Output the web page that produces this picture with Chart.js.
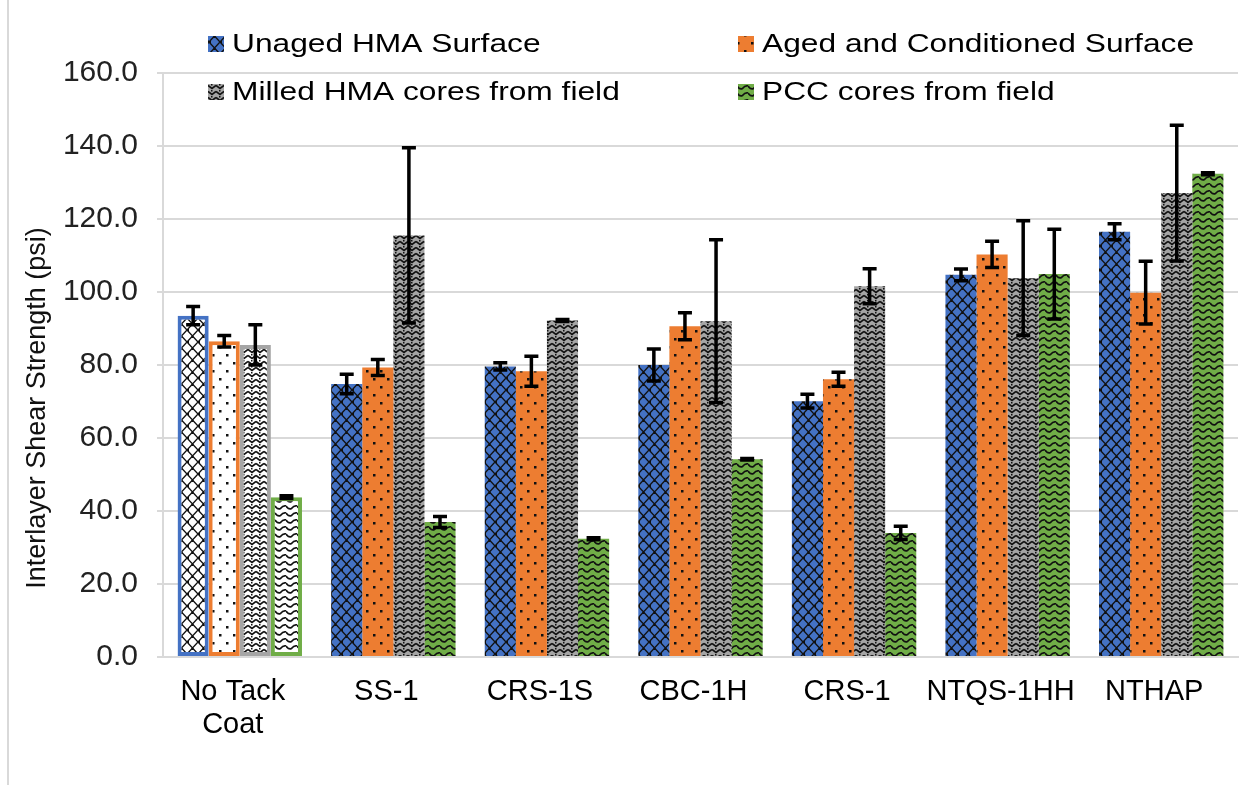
<!DOCTYPE html>
<html>
<head>
<meta charset="utf-8">
<script src="https://cdn.jsdelivr.net/npm/chart.js@4.4.0/dist/chart.umd.min.js"></script>
<style>
  html, body { margin: 0; padding: 0; background: #fff; }
  #wrap { position: relative; width: 1251px; height: 785px; }
  #frame { position: absolute; left: 7px; top: 0; width: 2px; height: 785px; background: #d9d9d9; }
</style>
</head>
<body>
<div id="wrap">
  <div id="frame"></div>
  <canvas id="shearChart" width="1251" height="785"></canvas>
</div>
<script>
const categories = [['No Tack', 'Coat'], 'SS-1', 'CRS-1S', 'CBC-1H', 'CRS-1', 'NTQS-1HH', 'NTHAP'];

const unaged    = [93.5, 74.8, 79.6, 80.0, 70.1, 104.7, 116.5];
const unagedErr = [2.5, 2.7, 1.0, 4.4, 1.9, 1.6, 2.2];
const aged      = [86.5, 79.3, 78.3, 90.6, 76.1, 110.3, 99.8];
const agedErr   = [1.6, 2.2, 4.1, 3.7, 1.9, 3.6, 8.6];
const milled    = [85.5, 115.5, 92.2, 92.0, 101.6, 103.8, 127.1];
const milledErr = [5.5, 24.0, 0.3, 22.3, 4.8, 15.7, 18.6];
const pcc       = [43.8, 37.0, 32.4, 54.2, 34.0, 104.9, 132.4];
const pccErr    = [0.4, 1.5, 0.3, 0.2, 1.8, 12.3, 0.3];

const yTicks = [0, 20, 40, 60, 80, 100, 120, 140, 160];
const yTitle = 'Interlayer Shear Strength (psi)';

const canvas = document.getElementById('shearChart');
const ctx = canvas.getContext('2d');

// little repeating tiles, like the Excel pattern fills
function makePattern(bg, w, h, draw) {
  const c = document.createElement('canvas');
  c.width = w; c.height = h;
  const g = c.getContext('2d');
  g.fillStyle = bg;
  g.fillRect(0, 0, w, h);
  g.strokeStyle = '#111';
  g.fillStyle = '#111';
  draw(g, w, h);
  return ctx.createPattern(c, 'repeat');
}

function lattice(g, w, h) {
  g.lineWidth = 1.3;
  g.beginPath();
  g.moveTo(0, h / 2); g.lineTo(w / 2, 0); g.lineTo(w, h / 2); g.lineTo(w / 2, h); g.closePath();
  g.stroke();
  g.fillRect(0, h / 2 - 1, 2, 2);
  g.fillRect(w / 2 - 1, 0, 2, 2);
}
function dots(g, w, h) {
  g.fillRect(2, 2, 2.5, 2.5);
  g.fillRect(9, 10, 2.5, 2.5);
}
function zigzag(g, w, h) {
  g.lineWidth = 1.6;
  g.beginPath();
  g.moveTo(0, 1.5); g.lineTo(w / 2, 4.5); g.lineTo(w, 1.5);
  g.stroke();
  g.fillRect(w / 2 - 1, 0, 1.5, 1.5);
}
function wave(g, w, h) {
  g.lineWidth = 1.7;
  g.beginPath();
  g.moveTo(0, 2);
  g.quadraticCurveTo(w / 4, 6, w / 2, 4.5);
  g.quadraticCurveTo(3 * w / 4, 1, w, 2);
  g.stroke();
}

const series = [
  { label: 'Unaged HMA Surface', data: unaged, err: unagedErr, color: '#4472C4', tile: [11, 12, lattice] },
  { label: 'Aged and Conditioned Surface', data: aged, err: agedErr, color: '#ED7D31', tile: [14, 16, dots] },
  { label: 'Milled HMA cores from field', data: milled, err: milledErr, color: '#A5A5A5', tile: [8, 6, zigzag] },
  { label: 'PCC cores from field', data: pcc, err: pccErr, color: '#70AD47', tile: [11, 7, wave] }
];

series.forEach(s => {
  s.fill = makePattern(s.color, s.tile[0], s.tile[1], s.tile[2]);
  s.fillWhite = makePattern('#ffffff', s.tile[0], s.tile[1], s.tile[2]);
});

const datasets = series.map(s => ({
  label: s.label,
  data: s.data,
  errors: s.err,
  backgroundColor: s.data.map((v, i) => i === 0 ? s.fillWhite : s.fill),
  borderColor: s.color,
  borderWidth: s.data.map((v, i) => i === 0 ? 4 : 0),
  borderSkipped: false,
  categoryPercentage: 0.81,
  barPercentage: 1.0
}));

// black error bars with caps
const errorBars = {
  id: 'errorBars',
  afterDatasetsDraw(chart) {
    const y = chart.scales.y;
    const c = chart.ctx;
    c.save();
    c.strokeStyle = '#000';
    c.lineWidth = 3.5;
    chart.data.datasets.forEach((ds, di) => {
      const meta = chart.getDatasetMeta(di);
      meta.data.forEach((bar, i) => {
        const v = ds.data[i], e = ds.errors[i];
        const top = y.getPixelForValue(v + e);
        const bot = y.getPixelForValue(v - e);
        c.beginPath();
        c.moveTo(bar.x, top); c.lineTo(bar.x, bot);
        c.moveTo(bar.x - 7, top); c.lineTo(bar.x + 7, top);
        c.moveTo(bar.x - 7, bot); c.lineTo(bar.x + 7, bot);
        c.stroke();
      });
    });
    c.restore();
  }
};

// two-column legend on top, category labels, y title a bit low like the original
const textBits = {
  id: 'textBits',
  afterDraw(chart) {
    const c = chart.ctx;
    const cols = [208, 738];
    const rows = [44, 92];
    c.save();
    c.textBaseline = 'middle';
    series.forEach((s, i) => {
      const x = cols[i % 2], yy = rows[Math.floor(i / 2)];
      c.fillStyle = s.fill;
      c.fillRect(x, yy - 8, 16, 16);
      c.save();
      c.translate(x + 24, yy);
      c.scale(1.22, 1);
      c.fillStyle = '#000';
      c.font = '26px "Liberation Sans", Arial, sans-serif';
      c.fillText(s.label, 0, 1);
      c.restore();
    });

    const xs = chart.scales.x;
    c.fillStyle = '#000';
    c.font = '29px "Liberation Sans", Arial, sans-serif';
    c.textAlign = 'center';
    categories.forEach((lab, i) => {
      const lines = Array.isArray(lab) ? lab : [lab];
      const px = xs.getPixelForTick(i) - 7;
      lines.forEach((ln, k) => {
        c.fillText(ln, px, chart.chartArea.bottom + 35 + k * 33);
      });
    });

    c.save();
    c.translate(38, 408);
    c.rotate(-Math.PI / 2);
    c.font = '27px "Liberation Sans", Arial, sans-serif';
    c.fillStyle = '#111';
    c.fillText(yTitle, 0, 0);
    c.restore();
    c.restore();
  }
};

new Chart(canvas, {
  type: 'bar',
  data: { labels: categories, datasets: datasets },
  options: {
    responsive: false,
    animation: false,
    layout: { padding: { top: 73, right: 13, left: 20, bottom: 0 } },
    plugins: {
      legend: { display: false },
      tooltip: { enabled: false }
    },
    scales: {
      x: {
        grid: { display: false },
        border: { display: true, color: '#d9d9d9', width: 2 },
        ticks: { display: false },
        afterFit(scale) { scale.height = 128; }
      },
      y: {
        min: 0,
        max: 160,
        afterBuildTicks(scale) { scale.ticks = yTicks.map(v => ({ value: v })); },
        grid: { color: '#d9d9d9', lineWidth: 2, tickLength: 6 },
        border: { display: true, color: '#d9d9d9', width: 2 },
        ticks: {
          color: '#222',
          padding: 19,
          font: { family: '"Liberation Sans", Arial, sans-serif', size: 30 },
          callback: v => Number(v).toFixed(1)
        },
        afterFit(scale) { scale.width = 143; }
      }
    }
  },
  plugins: [errorBars, textBits]
});
</script>
</body>
</html>
